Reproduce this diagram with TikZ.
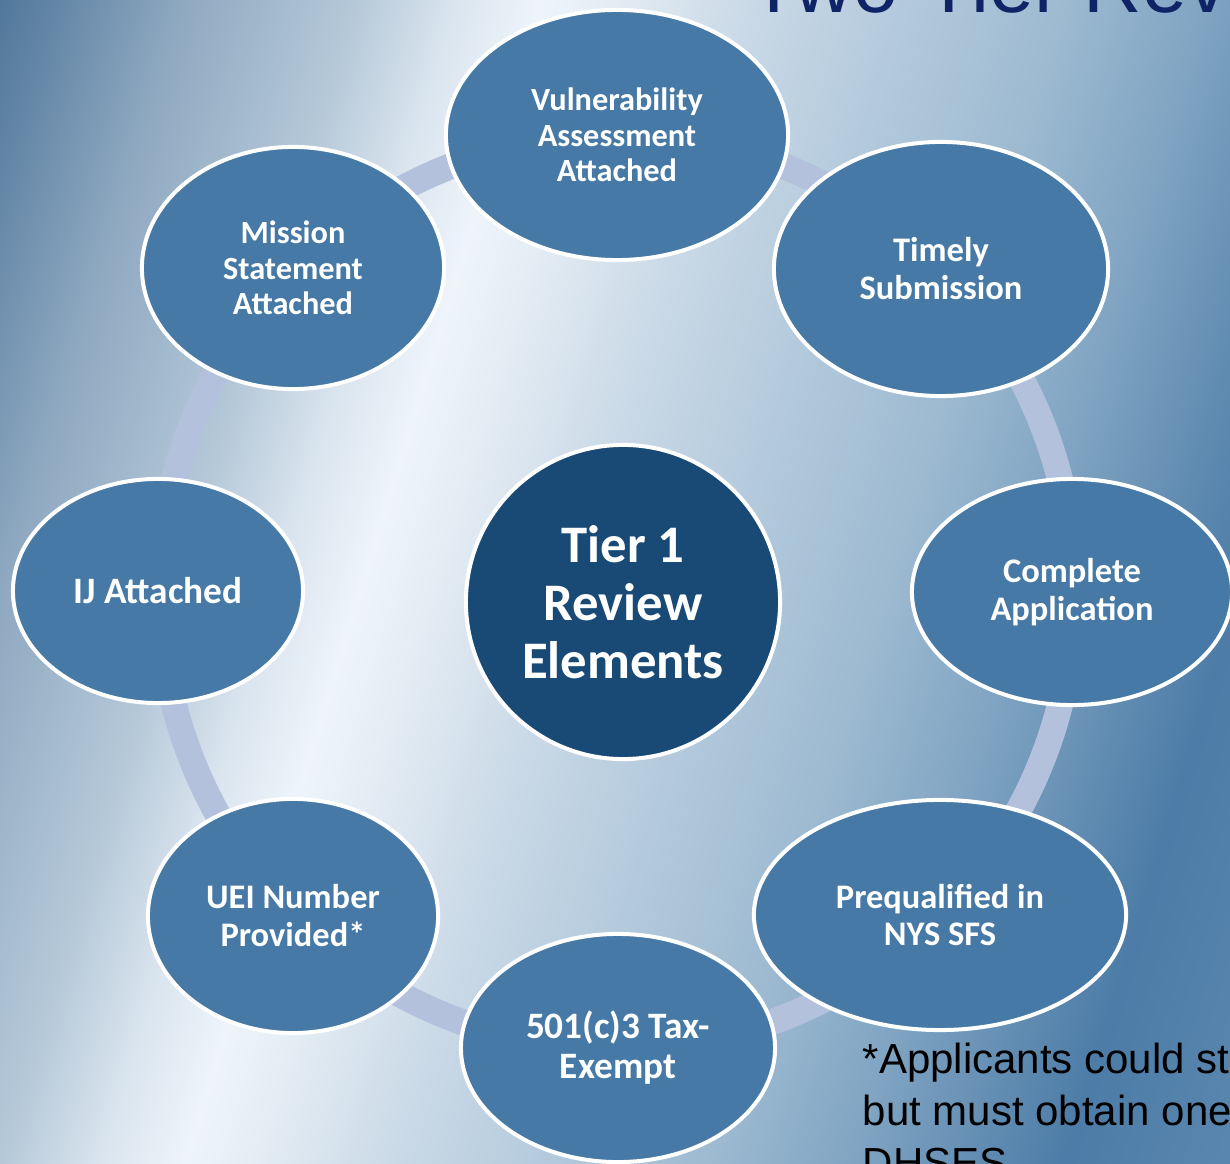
\documentclass[tikz,border=0pt]{standalone}
\usepackage{fontspec}
\setmainfont{Liberation Sans}
\newfontfamily\carl{Carlito}
\usetikzlibrary{shapes.geometric}
\definecolor{bgA}{HTML}{4E7599}
\definecolor{bgB}{HTML}{8FA9C1}
\definecolor{bgC}{HTML}{B5C8D8}
\definecolor{bgCC}{HTML}{DAE5EF}
\definecolor{bgD}{HTML}{EEF4FA}
\definecolor{bgDD}{HTML}{E6EEF5}
\definecolor{bgE}{HTML}{DAE5EF}
\definecolor{bgF}{HTML}{C8D8E6}
\definecolor{bgG}{HTML}{9DBAD1}
\definecolor{bgH}{HTML}{80A4C2}
\definecolor{bgI}{HTML}{4C7CA7}
\definecolor{bgJ}{HTML}{5A87AF}
\definecolor{itemblue}{HTML}{4679A5}
\definecolor{hubblue}{HTML}{184A75}
\definecolor{ringc}{HTML}{B4C1DC}
\definecolor{titleblue}{HTML}{0F2466}
\pgfdeclarehorizontalshading{bgshade}{100bp}{color(0bp)=(bgA); color(25bp)=(bgA); color(31bp)=(bgB); color(36.3bp)=(bgC); color(39.5bp)=(bgCC); color(42.1bp)=(bgD); color(44bp)=(bgDD); color(46bp)=(bgE); color(49bp)=(bgF); color(58.5bp)=(bgG); color(63bp)=(bgH); color(69.6bp)=(bgI); color(75bp)=(bgJ); color(100bp)=(bgJ)}
\begin{document}
\begin{tikzpicture}[x=0.01cm,y=-0.01cm,
  item/.style={ellipse, draw=white, line width=0.04cm, fill=itemblue, text=white, inner sep=0pt, align=center},
  fsA/.style={font=\carl\bfseries\fontsize{9.2pt}{10.1pt}\selectfont},
  fsB/.style={font=\carl\bfseries\fontsize{9.8pt}{10.8pt}\selectfont},
  fsC/.style={font=\carl\bfseries\fontsize{10.6pt}{11.4pt}\selectfont},
  hub/.style={circle, draw=white, line width=0.04cm, fill=hubblue, text=white, inner sep=0pt, align=center, minimum size=3.14cm, font=\carl\bfseries\fontsize{15pt}{16.5pt}\selectfont},
  ringline/.style={draw=ringc, line width=0.26cm},
  foot/.style={anchor=base west, inner sep=0pt, text=black, font=\fontsize{11.95pt}{14.8pt}\selectfont}]
\useasboundingbox (0,0) rectangle (1230,1164);
\begin{scope}
\clip (0,0) rectangle (1230,1164);
\fill[shading=bgshade, transform canvas={rotate around={-17:(615,582)}}] (-150,-162) rectangle (1380,1326);
\end{scope}
\begin{scope}
\clip (0,0) rectangle (1230,1164);
\coordinate (ringc) at (617,592);
\draw[ringline] (ringc) circle (457);
\node[item, fsA, minimum width=3.42cm, minimum height=2.50cm] (vuln) at (617,135) {Vulnerability\\Assessment\\Attached};
\node[item, fsB, minimum width=3.34cm, minimum height=2.54cm] (timely) at (941,269) {Timely\\Submission};
\node[item, fsB, minimum width=3.20cm, minimum height=2.26cm] (complete) at (1072,592) {Complete\\Application};
\node[item, fsB, minimum width=3.72cm, minimum height=2.30cm] (prequal) at (940,915) {Prequalified in\\NYS SFS};
\node[item, fsC, minimum width=3.14cm, minimum height=2.28cm] (tax) at (618,1048) {501(c)3 Tax-\\Exempt};
\node[item, fsB, minimum width=2.90cm, minimum height=2.34cm] (uei) at (293,916) {UEI Number\\Provided*};
\node[item, fsC, minimum width=2.90cm, minimum height=2.24cm] (ij) at (158,591) {IJ Attached};
\node[item, fsA, minimum width=3.02cm, minimum height=2.42cm] (mission) at (293,268) {Mission\\Statement\\Attached};
\node[hub] (hub) at (623,602) {Tier 1\\Review\\Elements};
\node[anchor=base west, inner sep=0pt, text=titleblue, font=\fontsize{23pt}{27pt}\selectfont] (title) at (749,13) {Two-Tier Review};
\node[foot] (fn1) at (862,1073) {*Applicants could st};
\node[foot] (fn2) at (862,1125) {but must obtain one};
\node[foot] (fn3) at (862,1177) {DHSES};
\end{scope}
\end{tikzpicture}
\end{document}
